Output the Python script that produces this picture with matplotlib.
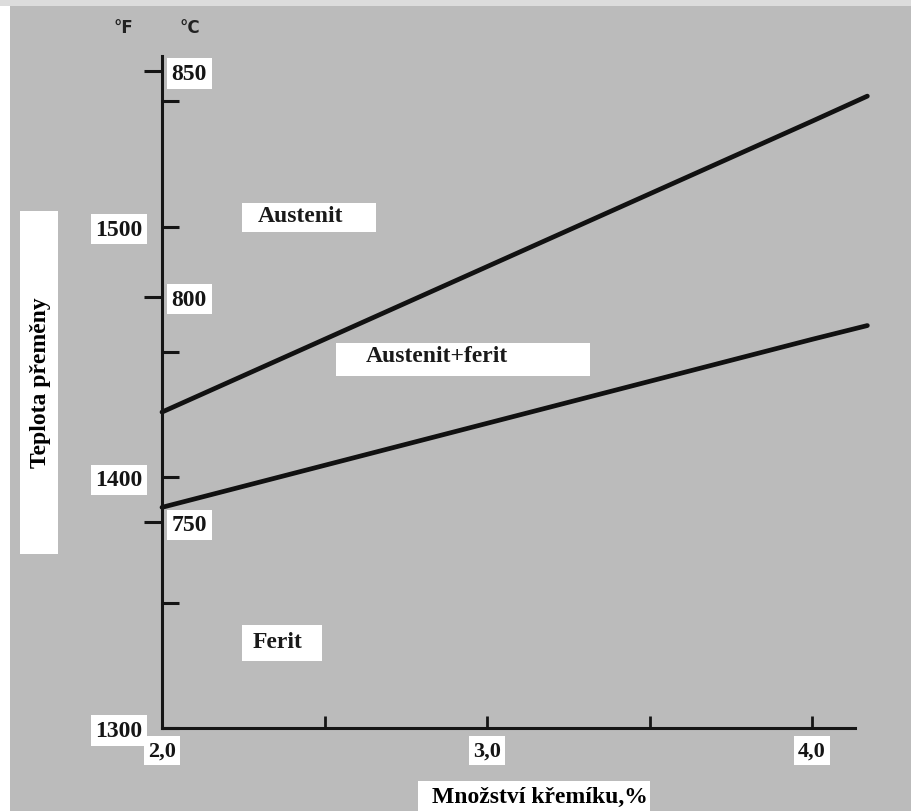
import matplotlib
matplotlib.use("Agg")
import matplotlib.pyplot as plt
import numpy as np
from matplotlib.patches import Rectangle

# ---- data ----
si_pct = [2.0, 3.0, 4.0, 4.17]                 # silicon content, %
upper_F = [1426, 1484, 1542, 1552]            # austenite / (austenite+ferrite) boundary, °F
lower_F = [1388, 1421.5, 1455, 1460.5]        # (austenite+ferrite) / ferrite boundary, °F

x_ticks = [2.0, 2.5, 3.0, 3.5, 4.0]
x_ticklabels = ["2,0", "", "3,0", "", "4,0"]
f_ticks = [1300, 1400, 1500]
f_ticklabels = ["1300", "1400", "1500"]
f_minor = [1350, 1450, 1550]
c_ticks = [750, 800, 850]
c_ticklabels = ["750", "800", "850"]

region_labels = ["Austenit", "Austenit+ferit", "Ferit"]
xlabel = "Množství křemíku,%"
ylabel = "Teplota přeměny"

BG = "#bbbbbb"
W, H = 912, 812
fig = plt.figure(figsize=(W / 100, H / 100), dpi=100, facecolor=BG)


def paper(x0, y0, x1, y1, color="white"):
    """white cut-out patch given in figure pixels (top-left origin)"""
    fig.patches.append(Rectangle((x0 / W, 1 - y1 / H), (x1 - x0) / W, (y1 - y0) / H,
                                 transform=fig.transFigure, facecolor=color,
                                 edgecolor="none", zorder=-5))


# white scan margin on the left / top
paper(0, 0, 10, H)
paper(0, 0, W, 7, "#dcdcdc")
# white cut-outs behind the texts
paper(20, 212, 58, 555)      # y label
paper(242, 204, 376, 233)    # Austenit
paper(336, 344, 590, 377)    # Austenit+ferit
paper(242, 626, 322, 662)    # Ferit
paper(418, 782, 650, 812)    # x label

ax = fig.add_axes([162 / W, 1 - 729 / H, (855 - 162) / W, (729 - 57) / H])
ax.set_facecolor("none")
ax.set_xlim(2.0, 4.132)
ax.set_ylim(1300, 1568)

for s in ["top", "right"]:
    ax.spines[s].set_visible(False)
for s in ["left", "bottom"]:
    ax.spines[s].set_linewidth(2.2)
    ax.spines[s].set_color("#151515")

ax.plot(si_pct, upper_F, color="#111111", lw=3.4, solid_capstyle="round", clip_on=False)
ax.plot(si_pct, lower_F, color="#111111", lw=3.4, solid_capstyle="round", clip_on=False)

serif = "Liberation Serif"
box = dict(facecolor="white", edgecolor="none", boxstyle="square,pad=0.2")

# x ticks
ax.set_xticks(x_ticks, x_ticklabels, fontfamily=serif, fontweight="bold",
              fontsize=16, bbox=box)
ax.tick_params(axis="x", direction="in", length=9, width=2, pad=9, colors="#151515")

# °F ticks (inward, labels left)
ax.set_yticks(f_ticks, f_ticklabels, fontfamily=serif, fontweight="bold",
              fontsize=17, bbox=box)
ax.set_yticks(f_minor, minor=True)
ax.tick_params(axis="y", which="both", direction="in", length=12, width=2.2,
               pad=14, colors="#151515")


# °C ticks (outward, labels to the right of the axis)
def f2c(f):
    return (np.asarray(f) - 32) * 5 / 9


def c2f(c):
    return np.asarray(c) * 9 / 5 + 32


sec = ax.secondary_yaxis("left", functions=(f2c, c2f))
sec.spines["left"].set_visible(False)
sec.set_yticks(c_ticks, c_ticklabels, fontfamily=serif, fontweight="bold",
               fontsize=17, bbox=box)
sec.tick_params(axis="y", direction="out", length=13, width=2.2, pad=-6,
                labelleft=False, labelright=True, colors="#151515")

# region labels
lab_kw = dict(fontfamily=serif, fontweight="bold", fontsize=17, ha="center",
              va="center", color="#1a1a1a")
ax.text(2.425, 1504.5, region_labels[0], **lab_kw)
ax.text(2.846, 1448.5, region_labels[1], **lab_kw)
ax.text(2.354, 1334.5, region_labels[2], **lab_kw)

# axis titles
ax.set_ylabel(ylabel, fontfamily=serif, fontweight="bold", fontsize=17, va="center")
ax.yaxis.set_label_coords((41 - 162) / 693, (729 - 383) / 672)
ax.set_xlabel(xlabel, fontfamily=serif, fontweight="bold", fontsize=17, va="center")
ax.xaxis.set_label_coords((540 - 162) / 693, (729 - 797) / 672)

# unit labels
fig.text(123 / W, 1 - 28 / H, "°F", fontfamily="DejaVu Sans", fontweight="bold",
         fontsize=12, ha="center", va="center", color="#222222")
fig.text(190 / W, 1 - 28 / H, "°C", fontfamily="DejaVu Sans", fontweight="bold",
         fontsize=12, ha="center", va="center", color="#222222")

fig.savefig("out.png", dpi=100, facecolor=BG)
